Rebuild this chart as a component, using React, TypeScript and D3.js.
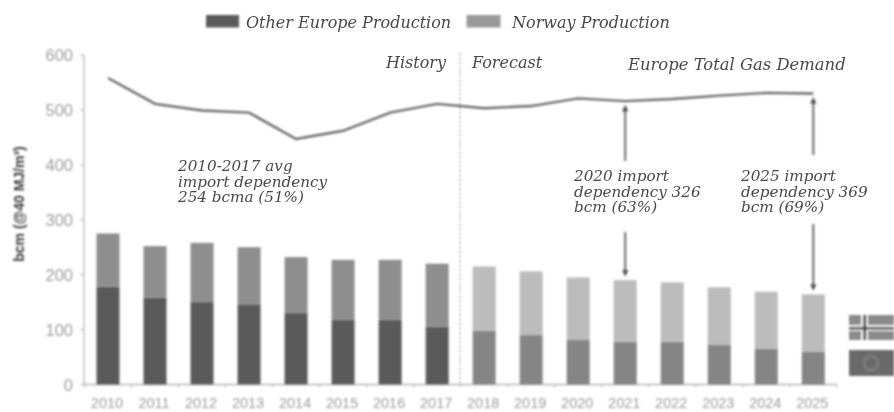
import React from 'react';
import * as d3 from 'd3';

const years = ['2010','2011','2012','2013','2014','2015','2016','2017','2018','2019','2020','2021','2022','2023','2024','2025'];
const otherEurope = [178,158,150,146,130,118,118,105,98,90,81,78,78,72,65,60];
const norway = [97,94,108,104,102,109,109,115,117,116,114,112,108,105,104,104];
const demand = [558,511,499,495,447,462,495,511,503,507,521,516,520,526,531,530];
const yTicks = [0,100,200,300,400,500,600];
const legendLabels = ['Other Europe Production','Norway Production'];
const avgNote = ['2010-2017 avg','import dependency','254 bcma (51%)'];
const note2020 = ['2020 import','dependency 326','bcm (63%)'];
const note2025 = ['2025 import','dependency 369','bcm (69%)'];
const historyCount = 8;

const W = 894, H = 412;
const x = d3.scaleLinear().domain([0, 15]).range([108, 813.3]);
const y = d3.scaleLinear().domain([0, 600]).range([384.5, 55]);
const barW = 23;
const serif = '"DejaVu Serif", serif';
const annColor = '#4a4a4a';

const Note = ({ lines, px, py, size }: { lines: string[]; px: number; py: number; size: number }) => (
  <text fontFamily={serif} fontStyle="italic" fontSize={size} fill={annColor}>
    {lines.map((l, i) => <tspan key={i} x={px} y={py + i * 15.5}>{l}</tspan>)}
  </text>
);

export default function App() {
  const line = d3.line<number>().x((_, i) => x(i)).y(d => y(d));
  const idx2021 = years.indexOf('2021');
  const idx2025 = years.indexOf('2025');
  const arrowGroups = [
    { i: idx2021, top: y(demand[idx2021]), upFrom: 161, downFrom: 232, bottom: y(otherEurope[idx2021] + norway[idx2021]) },
    { i: idx2025, top: y(demand[idx2025]), upFrom: 155, downFrom: 224, bottom: y(otherEurope[idx2025] + norway[idx2025]) },
  ];
  return (
    <svg width={W} height={H} viewBox={`0 0 ${W} ${H}`} style={{ position: 'absolute', left: 0, top: 0, background: '#fff' }}>
      <defs>
        <filter id="soft" x="-5%" y="-5%" width="110%" height="110%"><feGaussianBlur stdDeviation="0.9" /></filter>
        <filter id="softL" x="-5%" y="-5%" width="110%" height="110%"><feGaussianBlur stdDeviation="0.8" /></filter>
        <filter id="softT" x="-5%" y="-5%" width="110%" height="110%"><feGaussianBlur stdDeviation="0.35" /></filter>
      </defs>
      <g filter="url(#soft)">
        <line x1={84} x2={84} y1={55} y2={384.5} stroke="#b5b5b5" strokeWidth={1.3} />
        <line x1={84} x2={837} y1={384.5} y2={384.5} stroke="#b5b5b5" strokeWidth={1.3} />
        {yTicks.map(t => <line key={t} x1={80} x2={84} y1={y(t)} y2={y(t)} stroke="#b5b5b5" />)}
        {d3.range(0, 17).map(i => <line key={i} x1={x(i) - 23.5} x2={x(i) - 23.5} y1={384.5} y2={387.5} stroke="#b5b5b5" />)}
        {years.map((yr, i) => {
          const hist = i < historyCount;
          return (
            <g key={yr}>
              <rect x={x(i) - barW / 2} y={y(otherEurope[i])} width={barW} height={y(0) - y(otherEurope[i])} fill={hist ? '#5a5a5a' : '#858585'} />
              <rect x={x(i) - barW / 2} y={y(otherEurope[i] + norway[i])} width={barW} height={y(otherEurope[i]) - y(otherEurope[i] + norway[i])} fill={hist ? '#8e8e8e' : '#bcbcbc'} />
            </g>
          );
        })}
        <line x1={460} x2={460} y1={53} y2={384} stroke="#b0b0b0" strokeWidth={1.6} strokeDasharray="2 2.5" />
        <path d={line(demand) ?? ''} fill="none" stroke="#6c6c6c" strokeWidth={2.4} />
        {arrowGroups.map(a => {
          const px = x(a.i);
          return (
            <g key={a.i} stroke="#666" fill="#4a4a4a">
              <line x1={px} x2={px} y1={a.upFrom} y2={a.top + 8} strokeWidth={2} />
              <path d={`M${px - 2.8},${a.top + 10} L${px},${a.top + 4} L${px + 2.8},${a.top + 10} Z`} strokeWidth={0.5} />
              <line x1={px} x2={px} y1={a.downFrom} y2={a.bottom - 8} strokeWidth={2} />
              <path d={`M${px - 2.8},${a.bottom - 10} L${px},${a.bottom - 4} L${px + 2.8},${a.bottom - 10} Z`} strokeWidth={0.5} />
            </g>
          );
        })}
        <rect x={206} y={15} width={33} height={12.5} fill="#5a5a5a" />
        <rect x={466.5} y={15} width={34} height={12.5} fill="#989898" />
        <rect x={849} y={315} width={45} height={25} fill="#8a8a8a" />
        <rect x={849} y={325} width={45} height={6} fill="#eee" />
        <rect x={861} y={315} width={7} height={25} fill="#eee" />
        <rect x={849} y={327} width={45} height={2.4} fill="#333" />
        <rect x={863.5} y={315} width={2.6} height={25} fill="#333" />
        <rect x={849} y={350} width={45} height={26} fill="#6a6a6a" />
        <circle cx={871} cy={363} r={7} fill="none" stroke="#808080" strokeWidth={2} />
      </g>
      <g filter="url(#softL)">
        {yTicks.map(t => (
          <text key={t} x={73} y={y(t) + 6} textAnchor="end" fontFamily='"Liberation Sans", sans-serif' fontSize={16.5} fill="#9c9c9c">{t}</text>
        ))}
        {years.map((yr, i) => (
          <text key={yr} x={x(i) - 1} y={408} textAnchor="middle" fontFamily='"Liberation Sans", sans-serif' fontSize={14.5} fill="#9c9c9c">{yr}</text>
        ))}
        <text transform="translate(24,204) rotate(-90)" textAnchor="middle" fontFamily='"Liberation Sans", sans-serif' fontWeight={700} fontSize={14} fill="#3a3a3a">bcm (@40 MJ/m³)</text>
      </g>
      <g filter="url(#softT)">
        <g fontFamily={serif} fontStyle="italic" fontSize={16} fill={annColor}>
          <text x={246} y={28}>{legendLabels[0]}</text>
          <text x={512} y={28}>{legendLabels[1]}</text>
          <text x={386} y={68}>History</text>
          <text x={472} y={68}>Forecast</text>
          <text x={628} y={70} fontSize={16.4}>Europe Total Gas Demand</text>
        </g>
        <Note lines={avgNote} px={178} py={171} size={15.2} />
        <Note lines={note2020} px={574} py={181} size={15.2} />
        <Note lines={note2025} px={741} py={181} size={15.2} />
      </g>
    </svg>
  );
}
